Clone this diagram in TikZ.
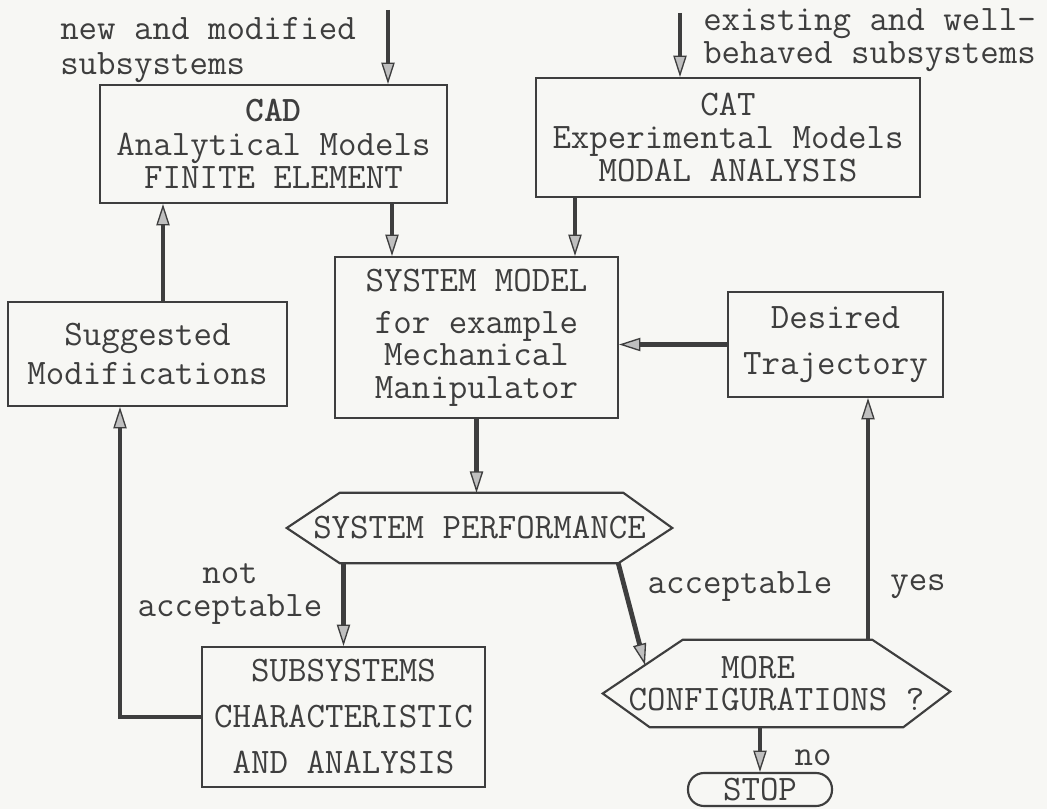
\documentclass[tikz,border=0pt]{standalone}
\usepackage{fontspec}
\usetikzlibrary{arrows.meta,calc}
\newcommand{\twfont}[1]{\ttfamily\fontsize{26.9pt}{#1}\selectfont}
\definecolor{ink}{RGB}{62,62,62}
\definecolor{paper}{RGB}{247,247,244}

\begin{document}
\begin{tikzpicture}[x=0.75pt,y=0.75pt,yscale=-1,
  outline/.style={draw=ink, line width=1.6pt},
  box/.style={outline, inner sep=0pt, align=center, text=ink},
  flow/.style={draw=ink, line width=3.6pt, -{Triangle[length=16pt,width=10pt,line width=1pt,fill=gray!50]}},
  back/.style={flow, line width=2.6pt},
  lbl/.style={text=ink, inner sep=0pt}]

\fill [paper] (0,0) rectangle (1047,809);
\useasboundingbox (0,0) rectangle (1047,809);

\node [box, minimum width=260.25pt, minimum height=88.5pt, font=\twfont{25pt}] (cad) at (273.5,144) {\textbf{CAD}\\Analytical Models\\FINITE ELEMENT};
\node [box, minimum width=288pt, minimum height=89.25pt, font=\twfont{25pt}] (cat) at (728,137.5) {CAT\\Experimental Models\\MODAL ANALYSIS};
\node [box, minimum width=209.25pt, minimum height=78pt, font=\twfont{29pt}] (sugg) at (147.5,354) {Suggested\\Modifications};
\node [box, minimum width=212.25pt, minimum height=120.75pt, font=\twfont{24.5pt}] (sysm) at (476.5,337.5) {SYSTEM MODEL\\[7pt]for example\\Mechanical\\Manipulator};
\node [box, minimum width=161.25pt, minimum height=78.75pt, font=\twfont{35pt}] (des) at (835.5,344.5) {Desired\\Trajectory};
\node [box, minimum width=212.25pt, minimum height=105pt, font=\twfont{34.5pt}] (sub) at (343.5,717) {SUBSYSTEMS\\CHARACTERISTIC\\AND ANALYSIS};
\node [box, rounded corners=12pt, minimum width=108pt, minimum height=24.75pt, font=\twfont{24pt}] (stop) at (760,789.5) {STOP};

\node [lbl, minimum width=288.75pt, minimum height=52.5pt, font=\twfont{24pt}] (sp) at (479.5,528) {SYSTEM PERFORMANCE};
\draw [outline] (sp.west) -- ($(sp.north west)+(53,0)$) -- ($(sp.north east)+(-49,0)$) -- (sp.east) -- ($(sp.south east)+(-54,0)$) coordinate (spse) -- ($(sp.south west)+(53,0)$) -- cycle;

\node [lbl, minimum width=260.25pt, minimum height=65.25pt, align=center, font=\twfont{24.5pt}] (more) at (776.5,683.5) {MORE\phantom{MO}\\CONFIGURATIONS ?};
\draw [outline] ($(more.west)+(0,10)$) -- ($(more.north west)+(80,0)$) -- ($(more.north east)+(-78,0)$) -- ($(more.east)+(0,8)$) -- ($(more.south east)+(-47,0)$) -- ($(more.south west)+(47,0)$) -- cycle;

\node [lbl, align=left, anchor=west, font=\twfont{26pt}] (newsub) at (60,50) {new and modified\\subsystems};
\node [lbl, align=left, anchor=west, font=\twfont{25pt}] (exist) at (703,40) {existing and well-\\behaved subsystems};
\node [lbl, align=center, font=\twfont{25pt}] (notacc) at (230,594) {not\\acceptable};
\node [lbl, font=\twfont{24pt}] (acclbl) at (740,587) {acceptable};
\node [lbl, font=\twfont{24pt}] (yes) at (918,587) {yes};
\node [lbl, font=\twfont{24pt}] (no) at (813,758) {no};

\coordinate (cadin) at (388,10);
\coordinate (catin) at (680,13);
\coordinate (cx) at (392,0);
\coordinate (dx) at (575,0);
\coordinate (ex) at (163,0);
\coordinate (lx) at (120,0);
\coordinate (yx) at (868,0);
\coordinate (acc) at (645,665);

\draw [flow] (cadin) -- (cadin |- cad.north);
\draw [flow] (catin) -- (catin |- cat.north);
\draw [flow] (cx |- cad.south) -- (cx |- sysm.north);
\draw [flow] (dx |- cat.south) -- (dx |- sysm.north);
\draw [flow] (ex |- sugg.north) -- (ex |- cad.south);
\draw [flow] (des.west) -- (des.west -| sysm.east);
\draw [flow] (sysm.south) -- (sysm.south |- sp.north);
\draw [flow] (sub.north |- sp.south) -- (sub.north);
\draw [flow] (spse) -- (acc);
\draw [back] (yx |- more.north) -- (yx |- des.south);
\draw [flow] (stop.north |- more.south) -- (stop.north);
\draw [back] (sub.west) -| (lx |- sugg.south);

\end{tikzpicture}
\end{document}
